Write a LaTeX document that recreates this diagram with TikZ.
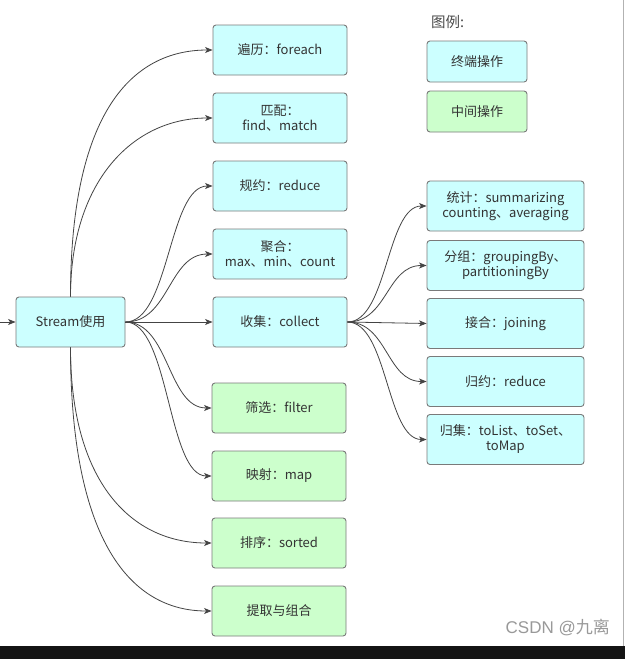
\documentclass[tikz,border=0pt]{standalone}
\usepackage{fontspec}
\setmainfont{Noto Sans CJK SC}
\newfontfamily\wmlatin{Liberation Sans}
\usetikzlibrary{arrows.meta}
\definecolor{termfill}{HTML}{CCFFFF}
\definecolor{midfill}{HTML}{CCFFCC}
\definecolor{boxline}{HTML}{7A7A7A}
\definecolor{txt}{HTML}{333333}
\definecolor{edge}{HTML}{444444}
\tikzset{
  box/.style={draw=boxline, line width=0.9pt, rounded corners=3pt, inner sep=0pt,
    align=center, text=txt, font=\fontsize{13}{15}\selectfont},
  term/.style={box, fill=termfill},
  midop/.style={box, fill=midfill},
  lbox/.style={minimum width=134pt, minimum height=50pt},
  rbox/.style={minimum width=157pt, minimum height=50pt},
  gbox/.style={minimum width=100pt, minimum height=41pt},
  conn/.style={draw=edge, line width=0.8pt, -{Stealth[length=7.5pt,width=6pt,inset=2pt]}},
}
\begin{document}
\begin{tikzpicture}[x=1pt,y=-1pt]
\useasboundingbox[fill=white] (0,0) rectangle (625,659);
% screen artefacts
\fill[black!92] (0,646) rectangle (625,659);
\draw[black!30, line width=1pt] (623.5,0) -- (623.5,646);

% main node
\node[term, minimum width=109pt, minimum height=50pt] (stream) at (70.5,322) {Stream使用};
\coordinate (in) at (0,322);

% left column
\node[term,lbox] (bl) at (280,50) {遍历：foreach};
\node[term,lbox] (pp) at (280,118) {匹配：\\find、match};
\node[term,lbox] (gy) at (280,186) {规约：reduce};
\node[term,lbox] (jh) at (280,254) {聚合：\\max、min、count};
\node[term,lbox] (sj) at (280,322) {收集：collect};
\node[midop,lbox] (sx) at (279,408) {筛选：filter};
\node[midop,lbox] (ys) at (279,476) {映射：map};
\node[midop,lbox] (px) at (279,543) {排序：sorted};
\node[midop,lbox] (tq) at (279,611) {提取与组合};

% right column
\node[term,rbox] (tj) at (505.5,206) {统计：summarizing\\counting、averaging};
\node[term,rbox] (fz) at (505.5,265.5) {分组：groupingBy、\\partitioningBy};
\node[term,rbox] (jhe) at (505.5,323.5) {接合：joining};
\node[term,rbox] (gyue) at (505.5,381.5) {归约：reduce};
\node[term,rbox] (gj) at (505.5,439.5) {归集：toList、toSet、\\toMap};

% legend
\node[text=black!70, font=\fontsize{14.5}{16}\selectfont, anchor=west, inner sep=0pt] (lg) at (431,22) {图例:};
\node[term,gbox] (lt) at (477,61.5) {终端操作};
\node[midop,gbox] (lm) at (477,111.5) {中间操作};

% watermark
\node[text=black!40, font=\fontsize{17}{19}\selectfont, anchor=east, inner sep=0pt] (wm) at (610,627) {{\wmlatin CSDN @}九离};

% connectors
\draw[conn] (in) -- (stream.west);
\draw[conn] (stream.north) .. controls +(0,-185) and +(-80,0) .. (bl.west);
\draw[conn] (stream.north) .. controls +(0,-115) and +(-80,0) .. (pp.west);
\draw[conn] (stream.east) .. controls +(44,0) and +(-44,0) .. (gy.west);
\draw[conn] (stream.east) .. controls +(44,0) and +(-44,0) .. (jh.west);
\draw[conn] (stream.east) -- (sj.west);
\draw[conn] (stream.east) .. controls +(44,0) and +(-44,0) .. (sx.west);
\draw[conn] (stream.east) .. controls +(44,0) and +(-44,0) .. (ys.west);
\draw[conn] (stream.south) .. controls +(0,135) and +(-80,0) .. (px.west);
\draw[conn] (stream.south) .. controls +(0,195) and +(-80,0) .. (tq.west);

\draw[conn] (sj.east) .. controls +(40,0) and +(-40,0) .. (tj.west);
\draw[conn] (sj.east) .. controls +(40,0) and +(-40,0) .. (fz.west);
\draw[conn] (sj.east) -- (jhe.west);
\draw[conn] (sj.east) .. controls +(40,0) and +(-40,0) .. (gyue.west);
\draw[conn] (sj.east) .. controls +(40,0) and +(-40,0) .. (gj.west);
\end{tikzpicture}
\end{document}
